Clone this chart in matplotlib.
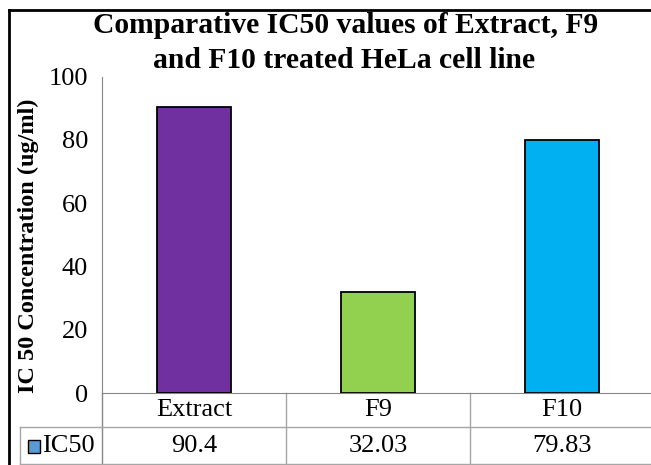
import matplotlib
matplotlib.use("Agg")
import matplotlib.pyplot as plt
import matplotlib.transforms as mtransforms
from matplotlib.lines import Line2D
from matplotlib.patches import Rectangle

# data
categories = ["Extract", "F9", "F10"]
ic50 = [90.4, 32.03, 79.83]
value_labels = ["90.4", "32.03", "79.83"]
bar_colors = ["#7030A0", "#92D050", "#00B0F0"]
series_name = "IC50"
title_lines = ["Comparative IC50 values of Extract, F9", "and F10 treated HeLa cell line"]

plt.rcParams["font.family"] = ["Liberation Serif", "DejaVu Serif"]

W, H = 651, 465
fig = plt.figure(figsize=(W / 100, H / 100), dpi=100)

# plot area in pixels
left, right, top, bottom = 102, 654, 76.6, 393
ax = fig.add_axes([left / W, 1 - bottom / H, (right - left) / W, (bottom - top) / H])

x = list(range(len(categories)))
ax.bar(x, ic50, width=0.4, color=bar_colors, edgecolor="black", linewidth=1.3, zorder=3)
ax.set_xlim(-0.5, len(categories) - 0.5)
ax.set_ylim(0, 100)
ax.set_yticks([0, 20, 40, 60, 80, 100])
ax.tick_params(axis="y", length=0, pad=10, labelsize=19)
ax.set_xticks([])
for s in ["top", "right"]:
    ax.spines[s].set_visible(False)
ax.spines["left"].set_color("#868686")
ax.spines["bottom"].set_color("#868686")

ax.set_ylabel("IC 50 Concentration (ug/ml)", fontsize=17.5, fontweight="bold")
ax.yaxis.set_label_coords(-(left - 39) / (right - left), 0.466)

# title, two lines
fig.text(346 / W, 1 - 33 / H, title_lines[0], ha="center", va="baseline", fontsize=21.3, fontweight="bold")
fig.text(344 / W, 1 - 68 / H, title_lines[1], ha="center", va="baseline", fontsize=21.3, fontweight="bold")

# data table under the axis
ah = bottom - top
r1 = -(410 - bottom) / ah
r2 = -(445.5 - bottom) / ah
l1 = -(427 - bottom) / ah
l2 = -(464 - bottom) / ah
tdat = mtransforms.blended_transform_factory(ax.transData, ax.transAxes)
tfig = mtransforms.blended_transform_factory(fig.transFigure, ax.transAxes)
grid_col = "#A6A6A6"

for i, (c, v) in enumerate(zip(categories, value_labels)):
    ax.text(i, r1, c, transform=tdat, ha="center", va="center", fontsize=19)
    ax.text(i, r2, v, transform=tdat, ha="center", va="center", fontsize=19)

for xv in [-0.5, 0.5, 1.5]:
    ax.add_line(Line2D([xv, xv], [0, l2], transform=tdat, color=grid_col if xv > 0 else "#868686",
                       lw=1, clip_on=False))
for yv in [l1, l2]:
    fig.add_artist(Line2D([20 / W, 1], [yv, yv], transform=tfig, color=grid_col, lw=1))
fig.add_artist(Line2D([20 / W, 20 / W], [l1, l2], transform=tfig, color=grid_col, lw=1))

# legend key + series name
fig.add_artist(Rectangle((28 / W, 1 - 453 / H), 12 / W, 13 / H, transform=fig.transFigure,
                         facecolor="#5B9BD5", edgecolor="black", lw=1))
fig.text(42 / W, 1 - 445.5 / H, series_name, ha="left", va="center", fontsize=19)

# chart frame (left and top edges visible)
fig.add_artist(Line2D([9 / W, 9 / W], [0, 1 - 10.5 / H], transform=fig.transFigure, color="black", lw=2))
fig.add_artist(Line2D([9 / W, 1], [1 - 10.5 / H, 1 - 10.5 / H], transform=fig.transFigure, color="black", lw=2))

fig.savefig("out.png", dpi=100)
